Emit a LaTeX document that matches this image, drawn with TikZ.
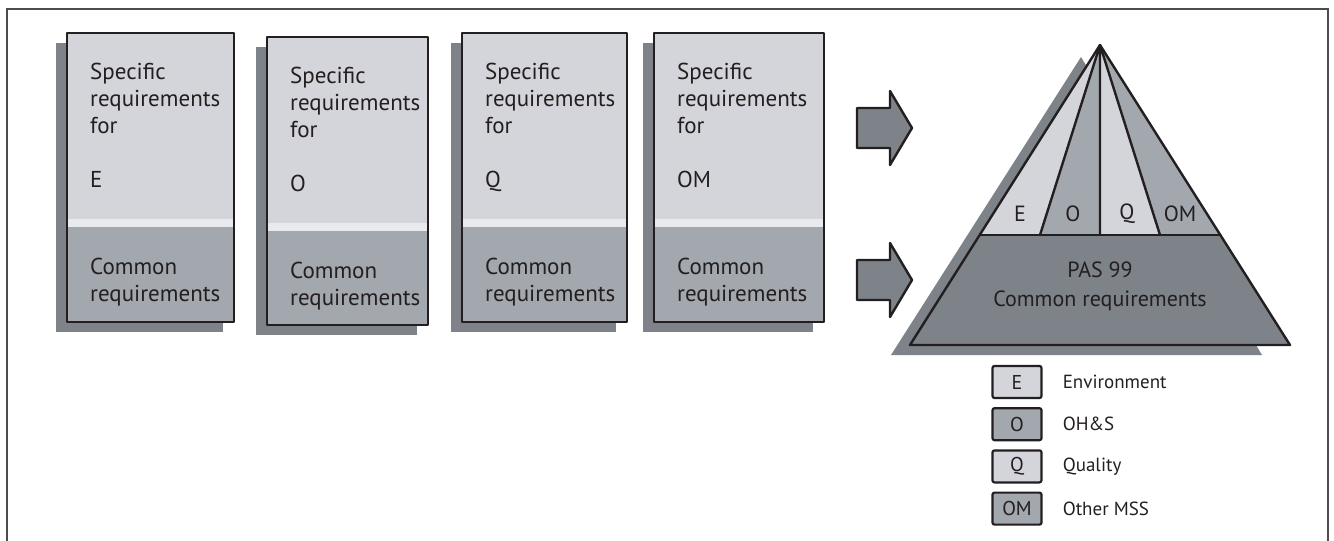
\documentclass[tikz,border=0pt]{standalone}
\usepackage{fontspec}
\setmainfont{PT Sans}
\usetikzlibrary{positioning}

\definecolor{specgray}{HTML}{D4D5DA}
\definecolor{stripgray}{HTML}{E9EAED}
\definecolor{commgray}{HTML}{A3A7AE}
\definecolor{shadowgray}{HTML}{7D8389}
\definecolor{inkgray}{HTML}{231F20}

\tikzset{%
  outline/.style={
    draw=inkgray,
    line width=2.4pt,
    line join=round
  },
  boxtext/.style={
    anchor=north west,
    inner sep=0pt,
    align=left,
    text=inkgray,
    font=\fontsize{23}{27}\selectfont
  },
  legbox/.style={
    outline,
    line width=2.2pt,
    rounded corners=2pt,
    minimum width=49pt,
    minimum height=32pt,
    inner sep=0pt,
    text=inkgray,
    font=\fontsize{20}{22}\selectfont
  },
  legtext/.style={
    inner sep=0pt,
    text=inkgray,
    font=\fontsize{19}{22}\selectfont
  },
}

\begin{document}
\begin{tikzpicture}[x=1pt,y=-1pt]
  \useasboundingbox (0,0) rectangle (1334,541);

  % frame
  \draw[line width=1.4pt,black!70] (7,541) -- (7,9) -- (1328,9) -- (1328,541);

  % the four standards
  \foreach \L/\R/\T/\B/\sys [count=\i] in
      {67/234/33/322/E, 267/428/37/325/O, 462/627/33/322/Q, 654/824/33/322/OM}{
    \fill[shadowgray] (\L-11,\T+10) rectangle (\R-11,\B+10);
    \fill[specgray] (\L,\T) rectangle (\R,\T+186);
    \fill[stripgray] (\L,\T+186) rectangle (\R,\T+194);
    \fill[commgray] (\L,\T+194) rectangle (\R,\B);
    \draw[outline] (\L,\T) rectangle (\R,\B);
    \node[boxtext] (spec\i) at (\L+23,\T+30) {Specific\\requirements\\for\\[27pt]\sys};
    \node[boxtext] (comm\i) at (\L+23,\T+225) {Common\\requirements};
  }

  % block arrows
  \foreach \yc in {128,280}{
    \draw[outline,fill=shadowgray] (857,\yc-20) -- (890,\yc-20) -- (890,\yc-37)
      -- (912,\yc) -- (890,\yc+37) -- (890,\yc+20) -- (857,\yc+20) -- cycle;
  }

  % pyramid
  \coordinate (apex) at (1100,45);
  \coordinate (bl) at (910,345);
  \coordinate (br) at (1290,345);
  \coordinate (ml) at (980,235);
  \coordinate (mr) at (1220,235);
  \coordinate (d1) at (1040,235);
  \coordinate (d2) at (1100,235);
  \coordinate (d3) at (1160,235);

  \fill[shadowgray] (1081,57) -- (891,355) -- (1262,355) -- cycle;
  \fill[specgray] (apex) -- (ml) -- (d1) -- cycle;
  \fill[commgray] (apex) -- (d1) -- (d2) -- cycle;
  \fill[specgray] (apex) -- (d2) -- (d3) -- cycle;
  \fill[commgray] (apex) -- (d3) -- (mr) -- cycle;
  \fill[shadowgray] (ml) -- (mr) -- (br) -- (bl) -- cycle;
  \draw[outline] (ml) -- (mr);
  \draw[outline] (apex) -- (d1) (apex) -- (d2) (apex) -- (d3);
  \draw[outline] (apex) -- (bl) -- (br) -- cycle;

  \node[legtext,font=\fontsize{22}{24}\selectfont] (pE) at (1020,214) {E};
  \node[legtext,font=\fontsize{22}{24}\selectfont] (pO) at (1073,214) {O};
  \node[legtext,font=\fontsize{22}{24}\selectfont] (pQ) at (1127,214) {Q};
  \node[legtext,font=\fontsize{22}{24}\selectfont] (pOM) at (1180,214) {OM};
  \node[legtext,align=center,font=\fontsize{22}{29}\selectfont] (pas) at (1100,286)
    {PAS 99\\Common requirements};

  % legend
  \node[legbox,fill=specgray] (lgE) at (1017,382) {E};
  \node[legbox,fill=commgray,below=8pt of lgE] (lgO) {O};
  \node[legbox,fill=specgray,below=8pt of lgO] (lgQ) {Q};
  \node[legbox,fill=commgray,below=8pt of lgQ] (lgOM) {OM};
  \node[legtext,right=20pt of lgE] (txE) {Environment};
  \node[legtext,right=20pt of lgO] (txO) {OH\&S};
  \node[legtext,right=20pt of lgQ] (txQ) {Quality};
  \node[legtext,right=20pt of lgOM] (txOM) {Other MSS};
\end{tikzpicture}
\end{document}
